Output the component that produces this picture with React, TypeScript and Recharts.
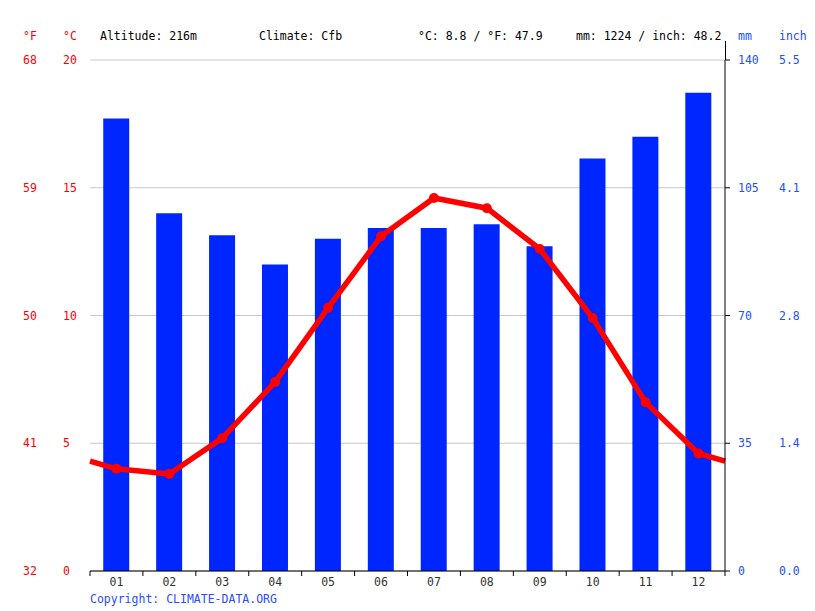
import React from "react";
import { ComposedChart, Bar, Line, XAxis, YAxis, CartesianGrid } from "recharts";

// monthly values
const months = ["01", "02", "03", "04", "05", "06", "07", "08", "09", "10", "11", "12"];
const precipMm = [124, 98, 92, 84, 91, 94, 94, 95, 89, 113, 119, 131];
const tempC = [4.0, 3.8, 5.2, 7.4, 10.3, 13.1, 14.6, 14.2, 12.6, 9.9, 6.6, 4.6];
// the curve runs on to both plot edges at the Dec/Jan midpoint
const edgeTempC = 4.3;

const tempTicks = [0, 5, 10, 15, 20];
const fahrTicks = ["32", "41", "50", "59", "68"];
const mmTicks = [0, 35, 70, 105, 140];
const inchTicks = ["0.0", "1.4", "2.8", "4.1", "5.5"];
const xTicks = [0.5, 1, 1.5, 2, 2.5, 3, 3.5, 4, 4.5, 5, 5.5, 6, 6.5, 7, 7.5, 8, 8.5, 9, 9.5, 10, 10.5, 11, 11.5, 12, 12.5];

const rows = [
  { x: 0.5, temp: edgeTempC },
  ...months.map((m, i) => ({ x: i + 1, month: m, mm: precipMm[i], temp: tempC[i] })),
  { x: 12.5, temp: edgeTempC },
];

const FONT = "'DejaVu Sans Mono', monospace";
const RED = "#ff0000";
const BLUE = "#0026ff";
const LABEL_BLUE = "#2050ff";

function TempTick(props: any) {
  const { y, payload } = props;
  const i = tempTicks.indexOf(payload.value);
  return (
    <g fontFamily={FONT} fontSize={11.5} fill={RED}>
      <text x={23} y={y} dy={4}>{fahrTicks[i]}</text>
      <text x={63} y={y} dy={4}>{payload.value}</text>
    </g>
  );
}

function MmTick(props: any) {
  const { y, payload } = props;
  const i = mmTicks.indexOf(payload.value);
  return (
    <g fontFamily={FONT} fontSize={11.5} fill={LABEL_BLUE}>
      <text x={738} y={y} dy={4}>{payload.value}</text>
      <text x={779} y={y} dy={4}>{inchTicks[i]}</text>
    </g>
  );
}

function MonthTick(props: any) {
  const { x, y, payload } = props;
  const v = payload.value as number;
  if (Number.isInteger(v)) {
    return (
      <text x={x} y={y} dy={10} textAnchor="middle" fontFamily={FONT} fontSize={11.5} fill="#333">
        {months[v - 1]}
      </text>
    );
  }
  return <line x1={x} x2={x} y1={y - 5} y2={y} stroke="#000" />;
}

function TempDot(props: any) {
  const { cx, cy, payload, index } = props;
  if (payload.mm === undefined) return <g key={index} />;
  return <circle key={index} cx={cx} cy={cy} r={5} fill={RED} />;
}

export default function App() {
  return (
    <div style={{ position: "absolute", left: 0, top: 0, width: 815, height: 611, background: "#fff" }}>
      <ComposedChart width={815} height={611} data={rows} margin={{ top: 60, right: 0, bottom: 0, left: 0 }}>
        <CartesianGrid yAxisId="t" vertical={false} stroke="#c8c8c8" />
        <XAxis
          dataKey="x"
          type="number"
          domain={[0.5, 12.5]}
          ticks={xTicks}
          interval={0}
          height={40}
          tickSize={5}
          tickMargin={0}
          tickLine={false}
          axisLine={{ stroke: "#000" }}
          tick={MonthTick}
        />
        <YAxis
          yAxisId="t"
          domain={[0, 20]}
          ticks={tempTicks}
          width={90}
          axisLine={false}
          tickLine={false}
          tick={TempTick}
        />
        <YAxis
          yAxisId="mm"
          orientation="right"
          domain={[0, 140]}
          ticks={mmTicks}
          width={90}
          tickSize={5}
          axisLine={{ stroke: "#000" }}
          tickLine={{ stroke: "#000" }}
          tick={MmTick}
        />
        <Bar yAxisId="mm" dataKey="mm" fill={BLUE} barSize={26} isAnimationActive={false} />
        <Line
          yAxisId="t"
          dataKey="temp"
          type="linear"
          stroke={RED}
          strokeWidth={5.5}
          dot={TempDot}
          activeDot={false}
          isAnimationActive={false}
        />
      </ComposedChart>
      <svg width={815} height={611} style={{ position: "absolute", left: 0, top: 0, pointerEvents: "none" }}>
        <g fontFamily={FONT} fontSize={11.5}>
          <text x={23} y={40} fill={RED}>°F</text>
          <text x={63} y={40} fill={RED}>°C</text>
          <text x={100} y={40} fill="#000">Altitude: 216m</text>
          <text x={259} y={40} fill="#000">Climate: Cfb</text>
          <text x={418} y={40} fill="#000">°C: 8.8 / °F: 47.9</text>
          <text x={576} y={40} fill="#000">mm: 1224 / inch: 48.2</text>
          <text x={738} y={40} fill={LABEL_BLUE}>mm</text>
          <text x={779} y={40} fill={LABEL_BLUE}>inch</text>
          <text x={90} y={603} fill="#2a4bff">Copyright: CLIMATE-DATA.ORG</text>
        </g>
        <line x1={725.5} x2={725.5} y1={41} y2={60} stroke="#000" />
      </svg>
    </div>
  );
}
